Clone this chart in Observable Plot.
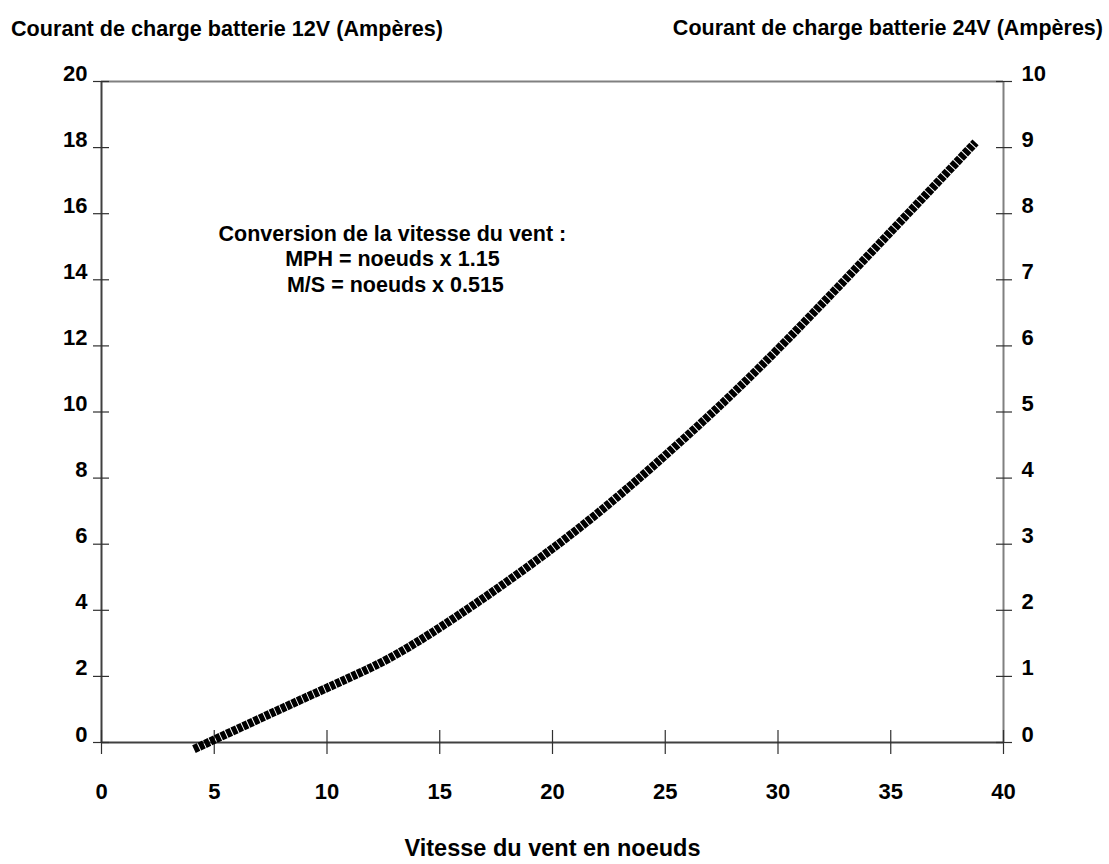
<!DOCTYPE html>
<html>
<head>
<meta charset="utf-8">
<script src="https://cdn.jsdelivr.net/npm/d3@7"></script>
<script src="https://cdn.jsdelivr.net/npm/@observablehq/plot@0.6"></script>
<style>
  html, body { margin: 0; padding: 0; background: #fff; }
  #wrap { position: relative; width: 1109px; height: 864px; font-family: "Liberation Sans", Arial, sans-serif; font-weight: bold; color: #000; overflow: hidden; }
  .ttl { position: absolute; white-space: nowrap; line-height: 1; }
  #tl { left: 11px; top: 18px; font-size: 21.6px; }
  #tr { right: 6px; top: 18px; font-size: 21.5px; }
  #xl { left: 0; width: 1105px; text-align: center; top: 837px; font-size: 23.5px; }
  svg { position: absolute; left: 0; top: 0; }
</style>
</head>
<body>
<div id="wrap">
  <div class="ttl" id="tl"></div>
  <div class="ttl" id="tr"></div>
  <div class="ttl" id="xl"></div>
</div>
<script>
// Titles
const leftTitle = "Courant de charge batterie 12V (Ampères)";
const rightTitle = "Courant de charge batterie 24V (Ampères)";
const xTitle = "Vitesse du vent en noeuds";

// Tick values / labels
const xTicks = [0, 5, 10, 15, 20, 25, 30, 35, 40];
const yTicks12V = [0, 2, 4, 6, 8, 10, 12, 14, 16, 18, 20];
const yTickLabels24V = ["0", "1", "2", "3", "4", "5", "6", "7", "8", "9", "10"];

// Curve: wind speed (knots) vs 12V charge current (A)
const windKnots = [4.1, 8.8, 11.5, 14.6, 20.35, 25.1, 29.2, 33.95, 38.76];
const current12V = [-0.2, 1.28, 2.12, 3.3, 6.05, 8.75, 11.36, 14.7, 18.16];

// Annotation
const noteLines = ["Conversion de la vitesse du vent :", "MPH = noeuds x 1.15", "\u00a0M/S = noeuds x 0.515"];
const noteX = 12.9;
const noteY = 15.72;

const curve = windKnots.map((x, i) => ({x, y: current12V[i]}));

document.getElementById("tl").textContent = leftTitle;
document.getElementById("tr").textContent = rightTitle;
document.getElementById("xl").textContent = xTitle;

const font = {fontSize: 22, fontWeight: "bold", fontFamily: "Liberation Sans, Arial, sans-serif"};
const blank = () => "";

const chart = Plot.plot({
  width: 1109,
  height: 864,
  marginLeft: 101,
  marginRight: 106,
  marginTop: 81,
  marginBottom: 122,
  x: {domain: [0, 40], label: null},
  y: {domain: [0, 20], label: null},
  style: {background: "transparent", fontFamily: "Liberation Sans, Arial, sans-serif", overflow: "visible"},
  marks: [
    // frame
    Plot.ruleY([20], {stroke: "#808080", strokeWidth: 2}),
    Plot.ruleX([40], {stroke: "#808080", strokeWidth: 2}),
    Plot.ruleX([0], {stroke: "#404040", strokeWidth: 2}),
    Plot.ruleY([0], {stroke: "#404040", strokeWidth: 2}),
    // crossing tick marks
    Plot.axisY({anchor: "left", ticks: yTicks12V, tickSize: 16, tickPadding: 0, dx: 8, tickFormat: blank, label: null, stroke: "#303030", strokeWidth: 1.2}),
    Plot.axisY({anchor: "right", ticks: yTicks12V, tickSize: 16, tickPadding: 0, dx: -8, tickFormat: blank, label: null, stroke: "#303030", strokeWidth: 1.2}),
    Plot.axisX({anchor: "bottom", ticks: xTicks, tickSize: 24, tickPadding: 0, dy: -12, tickFormat: blank, label: null, stroke: "#303030", strokeWidth: 1.2}),
    // tick labels
    Plot.axisY({anchor: "left", ticks: yTicks12V, tickSize: 0, tickPadding: 14, dy: -8, label: null, ...font, fill: "#000"}),
    Plot.axisY({anchor: "right", ticks: yTicks12V, tickSize: 0, tickPadding: 18, dy: -8, label: null, ...font, fill: "#000",
      tickFormat: (d) => yTickLabels24V[yTicks12V.indexOf(d)]}),
    Plot.axisX({anchor: "bottom", ticks: xTicks, tickSize: 0, tickPadding: 41, label: null, ...font, fill: "#000"}),
    // curve
    Plot.line(curve, {x: "x", y: "y", stroke: "#000", strokeWidth: 8.5, strokeDasharray: "5,1", curve: "natural", strokeLinecap: "butt"}),
    // annotation
    Plot.text([noteLines.join("\n")], {x: () => noteX, y: () => noteY, text: (d) => d, lineAnchor: "top", lineHeight: 1.18, ...font, fontSize: 21.5, fill: "#000", textAnchor: "middle"})
  ]
});
chart.style.position = "absolute";
chart.style.left = "0";
chart.style.top = "0";
document.getElementById("wrap").appendChild(chart);
</script>
</body>
</html>
